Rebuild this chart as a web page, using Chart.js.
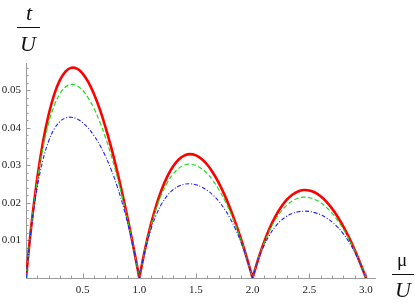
<!DOCTYPE html>
<html>
<head>
<meta charset="utf-8">
<script src="https://cdn.jsdelivr.net/npm/chart.js@4/dist/chart.umd.min.js"></script>
<style>
  html, body { margin: 0; padding: 0; background: #fff; }
  #wrap { position: relative; width: 415px; height: 303px; }
</style>
</head>
<body>
<div id="wrap"><canvas id="c" width="415" height="303"></canvas></div>
<script>
// μ/U sample positions
const mu = [0,0.05,0.1,0.15,0.2,0.25,0.3,0.35,0.4,0.45,0.5,0.55,0.6,0.65,0.7,0.75,0.8,0.85,0.9,0.95,
  1,1.05,1.1,1.15,1.2,1.25,1.3,1.35,1.4,1.45,1.5,1.55,1.6,1.65,1.7,1.75,1.8,1.85,1.9,1.95,
  2,2.05,2.1,2.15,2.2,2.25,2.3,2.35,2.4,2.45,2.5,2.55,2.6,2.65,2.7,2.75,2.8,2.85,2.9,2.95,3];

// t/U, red solid curve
const redT = [0,0.01478,0.02674,0.03623,0.04357,0.04902,0.05279,0.05507,0.05602,0.05578,0.05447,0.05218,0.04902,0.04506,0.04037,0.03501,0.02905,0.02252,0.01548,0.00796,
  0,0.00757,0.01401,0.01938,0.02377,0.02723,0.02984,0.03164,0.03268,0.03301,0.03268,0.03172,0.03017,0.02806,0.02542,0.02228,0.01867,0.01462,0.01014,0.00526,
  0,0.00509,0.00949,0.01323,0.01634,0.01885,0.0208,0.02219,0.02307,0.02344,0.02334,0.02278,0.02179,0.02037,0.01855,0.01634,0.01376,0.01082,0.00754,0.00393,0];

// t/U, green dashed curve
const greenT = [0,0.01455,0.02595,0.03472,0.04128,0.04601,0.04915,0.05096,0.05161,0.05125,0.05,0.04794,0.04516,0.0417,0.03759,0.03286,0.02752,0.02158,0.01502,0.00784,
  0,0.00745,0.0136,0.01857,0.02252,0.02556,0.02778,0.02928,0.03011,0.03033,0.03,0.02914,0.0278,0.02597,0.02367,0.02091,0.01769,0.01401,0.00984,0.00518,
  0,0.00501,0.00921,0.01268,0.01548,0.01769,0.01937,0.02053,0.02125,0.02154,0.02143,0.02093,0.02007,0.01885,0.01727,0.01534,0.01304,0.01037,0.00732,0.00387,0];

// t/U, blue dash-dot curve
const blueT = [0,0.01405,0.02425,0.03149,0.03648,0.03976,0.04172,0.04268,0.04286,0.04239,0.0414,0.03991,0.03795,0.03551,0.03256,0.02902,0.02485,0.01996,0.01425,0.00763,
  0,0.00719,0.0127,0.01684,0.0199,0.02208,0.02358,0.02452,0.025,0.02509,0.02484,0.02426,0.02336,0.02211,0.0205,0.01847,0.01597,0.01295,0.00933,0.00504,
  0,0.00484,0.0086,0.0115,0.01368,0.01529,0.01644,0.0172,0.01765,0.01781,0.01774,0.01742,0.01687,0.01605,0.01496,0.01355,0.01177,0.00959,0.00694,0.00377,0];

const xTickLabels = [0.5, 1.0, 1.5, 2.0, 2.5, 3.0];
const yTickLabels = [0.01, 0.02, 0.03, 0.04, 0.05];

// build points; cusp points (interior zeros) are doubled so the spline stays sharp there
function pts(vals) {
  const out = [];
  vals.forEach((v, i) => {
    out.push({x: mu[i], y: v});
    if (v === 0 && i > 0 && i < vals.length - 1) out.push({x: mu[i], y: v});
  });
  return out;
}

const AXIS = '#9a9a9a';
const SERIF = '"Liberation Serif", "DejaVu Serif", serif';

const axisDeco = {
  id: 'axisDeco',
  beforeDatasetsDraw(chart) {
    const {ctx, scales: {x, y}} = chart;
    const y0 = y.getPixelForValue(0);
    const x0 = x.getPixelForValue(0);
    ctx.save();
    ctx.strokeStyle = AXIS;
    ctx.lineWidth = 1;
    ctx.beginPath();
    for (let i = 1; i <= 30; i++) {
      const px = Math.round(x.getPixelForValue(i / 10)) + 0.5;
      const len = (i % 5 === 0) ? 4.5 : 2.5;
      ctx.moveTo(px, y0);
      ctx.lineTo(px, y0 - len);
    }
    for (let i = 1; i <= 28; i++) {
      const py = Math.round(y.getPixelForValue(i * 0.002)) + 0.5;
      const len = (i % 5 === 0) ? 4.5 : 2.5;
      ctx.moveTo(x0, py);
      ctx.lineTo(x0 + len, py);
    }
    ctx.stroke();
    ctx.restore();
  },
  afterDraw(chart) {
    const ctx = chart.ctx;
    ctx.save();
    ctx.fillStyle = '#111';
    ctx.textAlign = 'center';
    ctx.textBaseline = 'alphabetic';
    // vertical axis label t / U
    ctx.font = 'italic 22px ' + SERIF;
    ctx.fillText('t', 29, 20);
    ctx.fillText('U', 28, 51);
    // horizontal axis label μ / U
    ctx.font = '19px ' + SERIF;
    ctx.fillText('μ', 402, 266);
    ctx.font = 'italic 22px ' + SERIF;
    ctx.fillText('U', 403, 297);
    ctx.strokeStyle = '#111';
    ctx.lineWidth = 1;
    ctx.beginPath();
    ctx.moveTo(17, 27.5); ctx.lineTo(40, 27.5);
    ctx.moveTo(392, 274.5); ctx.lineTo(414, 274.5);
    ctx.stroke();
    ctx.restore();
  }
};

new Chart(document.getElementById('c'), {
  type: 'line',
  data: {
    datasets: [
      { label: 'red', data: pts(redT), borderColor: '#ff0000', borderWidth: 2.6, order: 2 },
      { label: 'green', data: pts(greenT), borderColor: '#1fdc1f', borderWidth: 1.2, borderDash: [4.5, 2.5], order: 1 },
      { label: 'blue', data: pts(blueT), borderColor: '#2020ff', borderWidth: 1.1, borderDash: [4, 1.8, 1, 1.8], order: 0 }
    ]
  },
  options: {
    responsive: false,
    animation: false,
    events: [],
    layout: { padding: { top: 63, right: 40, left: 0, bottom: 0 } },
    elements: { point: { radius: 0 }, line: { tension: 0.4, fill: false } },
    plugins: { legend: { display: false }, tooltip: { enabled: false } },
    scales: {
      x: {
        type: 'linear', min: 0, max: 3.08,
        grid: { display: false, drawTicks: false },
        border: { display: true, color: AXIS, width: 1 },
        afterBuildTicks: (s) => { s.ticks = xTickLabels.map(v => ({value: v})); },
        afterFit: (s) => { s.height = 25; },
        ticks: {
          padding: 6, color: '#222', maxRotation: 0, autoSkip: false,
          font: { family: SERIF, size: 11 },
          callback: (v) => Number(v).toFixed(1)
        }
      },
      y: {
        type: 'linear', min: 0, max: 0.0573,
        grid: { display: false, drawTicks: false },
        border: { display: true, color: AXIS, width: 1 },
        afterBuildTicks: (s) => { s.ticks = yTickLabels.map(v => ({value: v})); },
        afterFit: (s) => { s.width = 26; },
        ticks: {
          padding: 5, color: '#222', autoSkip: false,
          font: { family: SERIF, size: 11 },
          callback: (v) => Number(v).toFixed(2)
        }
      }
    }
  },
  plugins: [axisDeco]
});
</script>
</body>
</html>
